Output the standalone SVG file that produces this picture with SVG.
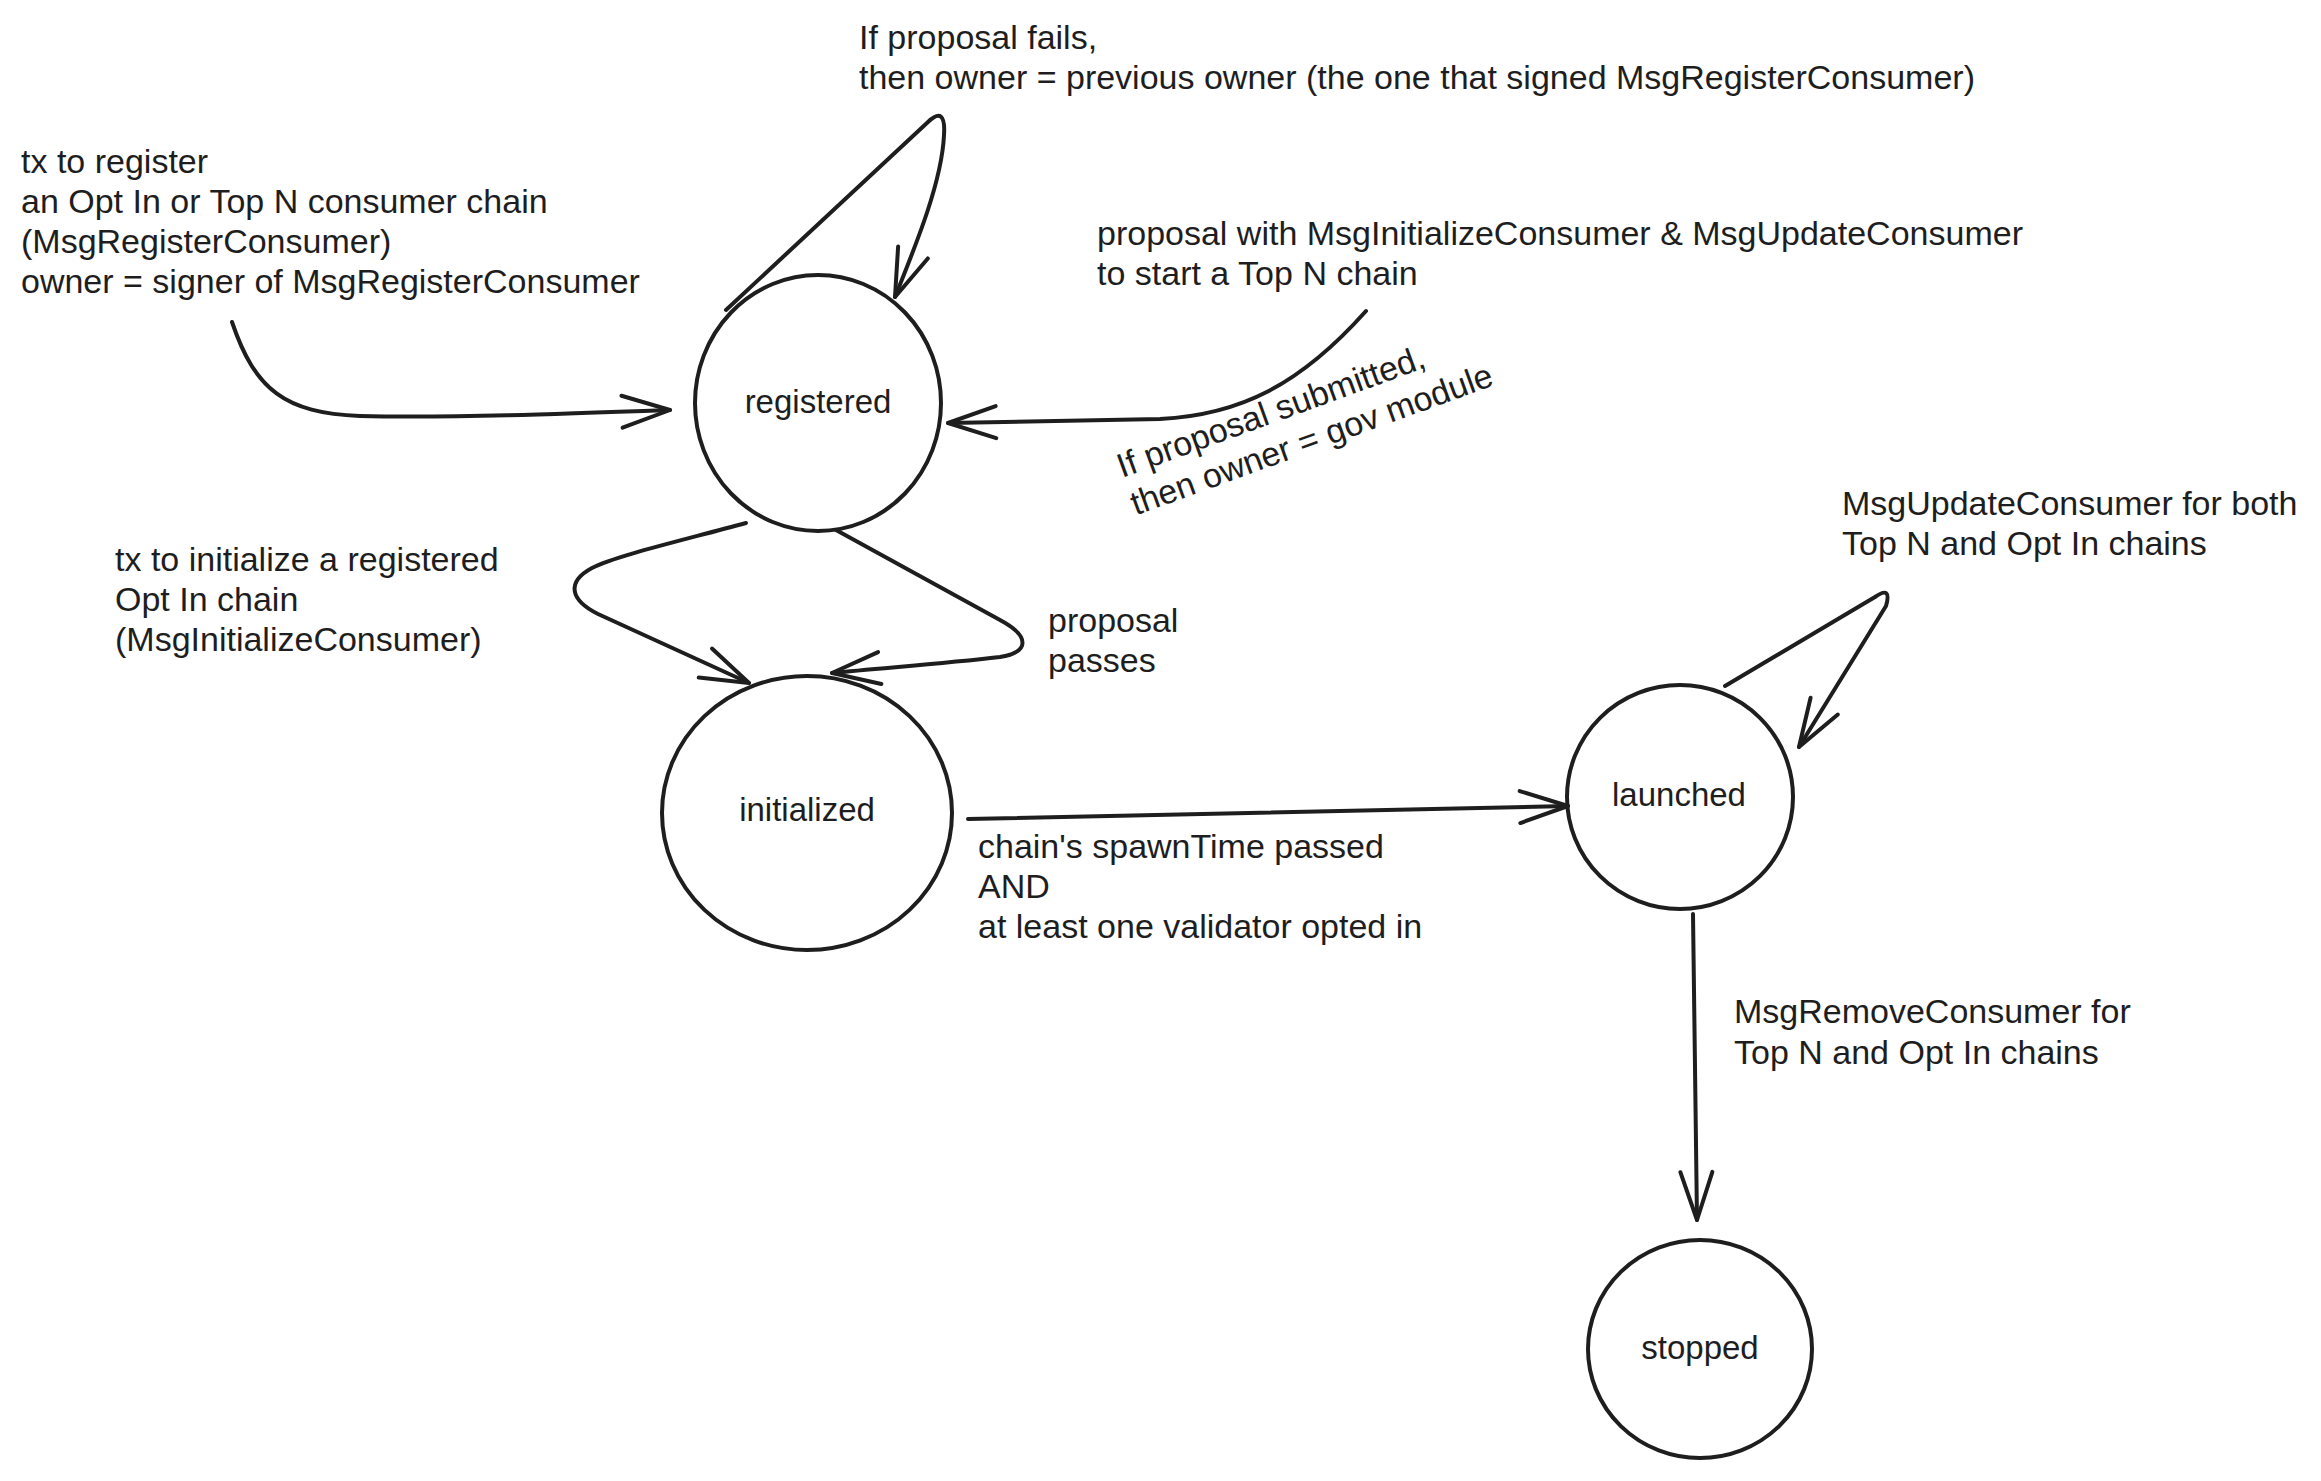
<svg xmlns="http://www.w3.org/2000/svg" width="2321" height="1481" viewBox="0 0 2321 1481">
<style>
.node ellipse{fill:none;stroke:#1e1e1e;stroke-width:4}
.edge{fill:none;stroke:#1e1e1e;stroke-width:4;stroke-linecap:round;stroke-linejoin:round}
.lbl{font-family:"Liberation Sans",Arial,sans-serif;font-size:34px;fill:#1e1e1e}
.nlbl{font-family:"Liberation Sans",Arial,sans-serif;font-size:33px;fill:#1e1e1e;text-anchor:middle}
</style>
<defs>
<marker id="arr" markerUnits="userSpaceOnUse" markerWidth="120" markerHeight="120" refX="0" refY="0" viewBox="-60 -60 120 120" orient="auto" overflow="visible">
<path d="M-48,-16 L0,0 L-48,16" fill="none" stroke="#1e1e1e" stroke-width="4" stroke-linecap="round" stroke-linejoin="round"/>
</marker>
</defs>
<rect width="2321" height="1481" fill="#ffffff"/>

<g id="node-registered" class="node">
<ellipse cx="818" cy="403" rx="123" ry="128"/>
<text class="nlbl" x="818" y="413">registered</text>
</g>
<g id="node-initialized" class="node">
<ellipse cx="807" cy="813" rx="145" ry="137"/>
<text class="nlbl" x="807" y="821">initialized</text>
</g>
<g id="node-launched" class="node">
<ellipse cx="1680" cy="797" rx="113" ry="112"/>
<text class="nlbl" x="1679" y="806">launched</text>
</g>
<g id="node-stopped" class="node">
<ellipse cx="1700" cy="1349" rx="112" ry="109"/>
<text class="nlbl" x="1700" y="1359">stopped</text>
</g>

<g id="connectors">
<path class="edge" marker-end="url(#arr)" d="M232,322 C255,390 285,413 360,416 C450,418 560,414 670,410"/>
<path class="edge" marker-end="url(#arr)" d="M726,310 L928,122 Q946,105 944,135 C942,180 918,240 895,297"/>
<path class="edge" marker-end="url(#arr)" d="M1366,311 C1300,385 1240,415 1160,419 L948,423"/>
<path class="edge" marker-end="url(#arr)" d="M746,523 C680,541 615,556 592,568 C566,582 570,600 598,614 L749,683"/>
<path class="edge" marker-end="url(#arr)" d="M836,530 L1000,620 C1030,636 1030,652 1000,657 C940,664 880,668 832,673"/>
<path class="edge" marker-end="url(#arr)" d="M968,819 L1568,806"/>
<path class="edge" marker-end="url(#arr)" d="M1725,686 L1875,597 Q1892,585 1886,606 L1799,747"/>
<path class="edge" marker-end="url(#arr)" d="M1693,914 L1697,1220"/>
</g>

<g id="labels">
<text class="lbl" x="859" y="49">If proposal fails,</text>
<text class="lbl" x="859" y="89">then owner = previous owner (the one that signed MsgRegisterConsumer)</text>
<text class="lbl" x="21" y="173">tx to register</text>
<text class="lbl" x="21" y="213">an Opt In or Top N consumer chain</text>
<text class="lbl" x="21" y="253">(MsgRegisterConsumer)</text>
<text class="lbl" x="21" y="293">owner = signer of MsgRegisterConsumer</text>
<text class="lbl" x="1097" y="245">proposal with MsgInitializeConsumer &amp; MsgUpdateConsumer</text>
<text class="lbl" x="1097" y="285">to start a Top N chain</text>
<g transform="translate(1122,478) rotate(-20)">
<text class="lbl" x="0" y="0">If proposal submitted,</text>
<text class="lbl" x="0" y="40">then owner = gov module</text>
</g>
<text class="lbl" x="115" y="571">tx to initialize a registered</text>
<text class="lbl" x="115" y="611">Opt In chain</text>
<text class="lbl" x="115" y="651">(MsgInitializeConsumer)</text>
<text class="lbl" x="1048" y="632">proposal</text>
<text class="lbl" x="1048" y="672">passes</text>
<text class="lbl" x="978" y="858">chain's spawnTime passed</text>
<text class="lbl" x="978" y="898">AND</text>
<text class="lbl" x="978" y="938">at least one validator opted in</text>
<text class="lbl" x="1842" y="515">MsgUpdateConsumer for both</text>
<text class="lbl" x="1842" y="555">Top N and Opt In chains</text>
<text class="lbl" x="1734" y="1023">MsgRemoveConsumer for</text>
<text class="lbl" x="1734" y="1064">Top N and Opt In chains</text>
</g>
</svg>
